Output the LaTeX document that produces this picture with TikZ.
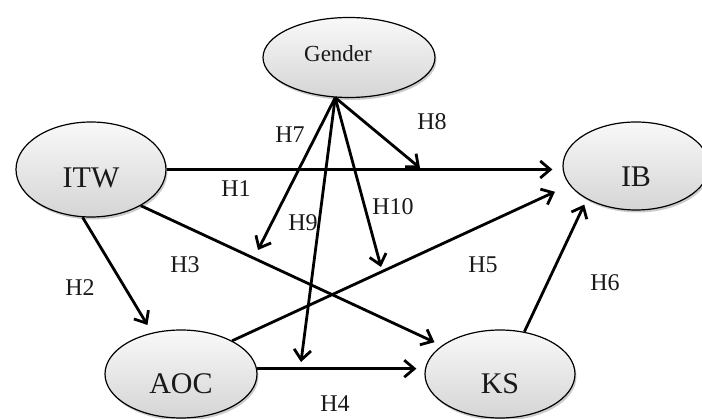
\documentclass[tikz,border=0pt]{standalone}
\usepackage{fontspec}
\setmainfont{Liberation Serif}
\usetikzlibrary{arrows.meta,shapes.geometric,shadows}
\begin{document}
\begin{tikzpicture}[x=1pt,y=-1pt,
  var/.style={ellipse, draw=black, line width=1.2pt, inner sep=0pt,
    top color=gray!5, bottom color=gray!33,
    drop shadow={opacity=0.4,shadow xshift=1.5pt,shadow yshift=-2.5pt},
    font=\fontsize{30}{32}\selectfont, text=black!90, text depth=0pt},
  lab/.style={font=\fontsize{24}{26}\selectfont, text=black!90, inner sep=0pt},
  arr/.style={line width=2.8pt, -{Straight Barb[length=10pt,width=17pt]}},
]
\useasboundingbox (0,0) rectangle (702,419);

% constructs
\node[var, minimum width=172pt, minimum height=80pt,
      font=\fontsize{23}{25}\selectfont, text depth=8pt] (Gender) at (349,57.5) {\hspace*{-22pt}Gender};
\node[var, minimum width=150pt, minimum height=95pt, text height=37pt] (ITW) at (91,169.5) {ITW};
\node[var, minimum width=152pt, minimum height=88pt, text height=40pt] (AOC) at (181,374) {AOC};
\node[var, minimum width=150pt, minimum height=88pt, text height=40pt] (KS) at (500,374) {KS};
\node[var, minimum width=146pt, minimum height=88pt, text height=42pt] (IB) at (636,166) {IB};

% moderator tips
\coordinate (t7) at (258,250);
\coordinate (t8) at (420,168);
\coordinate (t9) at (301,362);
\coordinate (t10) at (381,267);

% direct paths
\draw[arr, shorten >=10pt] (ITW.0) -- (ITW.0 -| IB.west);
\draw[arr, shorten >=9pt] (ITW.260) -- (AOC.125);
\draw[arr, shorten >=8pt] (ITW.324) -- (KS.154);
\draw[arr, shorten >=8pt] (AOC.4) -- (AOC.4 -| KS.west);
\draw[arr, shorten >=16pt] (AOC.33) -- (IB.196);
\draw[arr, shorten >=6pt] (KS.60) -- (IB.214);

% moderating paths
\draw[arr] (Gender.251) -- (t7);
\draw[arr] (Gender.251) -- (t8);
\draw[arr] (Gender.251) -- (t9);
\draw[arr] (Gender.251) -- (t10);

% labels
\node[lab] (l1) at (236,189) {H1};
\node[lab] (l2) at (80,288) {H2};
\node[lab] (l3) at (185,265) {H3};
\node[lab] (l4) at (335,404) {H4};
\node[lab] (l5) at (483,265) {H5};
\node[lab] (l6) at (605,283) {H6};
\node[lab] (l7) at (290,135) {H7};
\node[lab] (l8) at (432,122) {H8};
\node[lab] (l9) at (303,223) {H9};
\node[lab] (l10) at (393,207) {H10};
\end{tikzpicture}
\end{document}
